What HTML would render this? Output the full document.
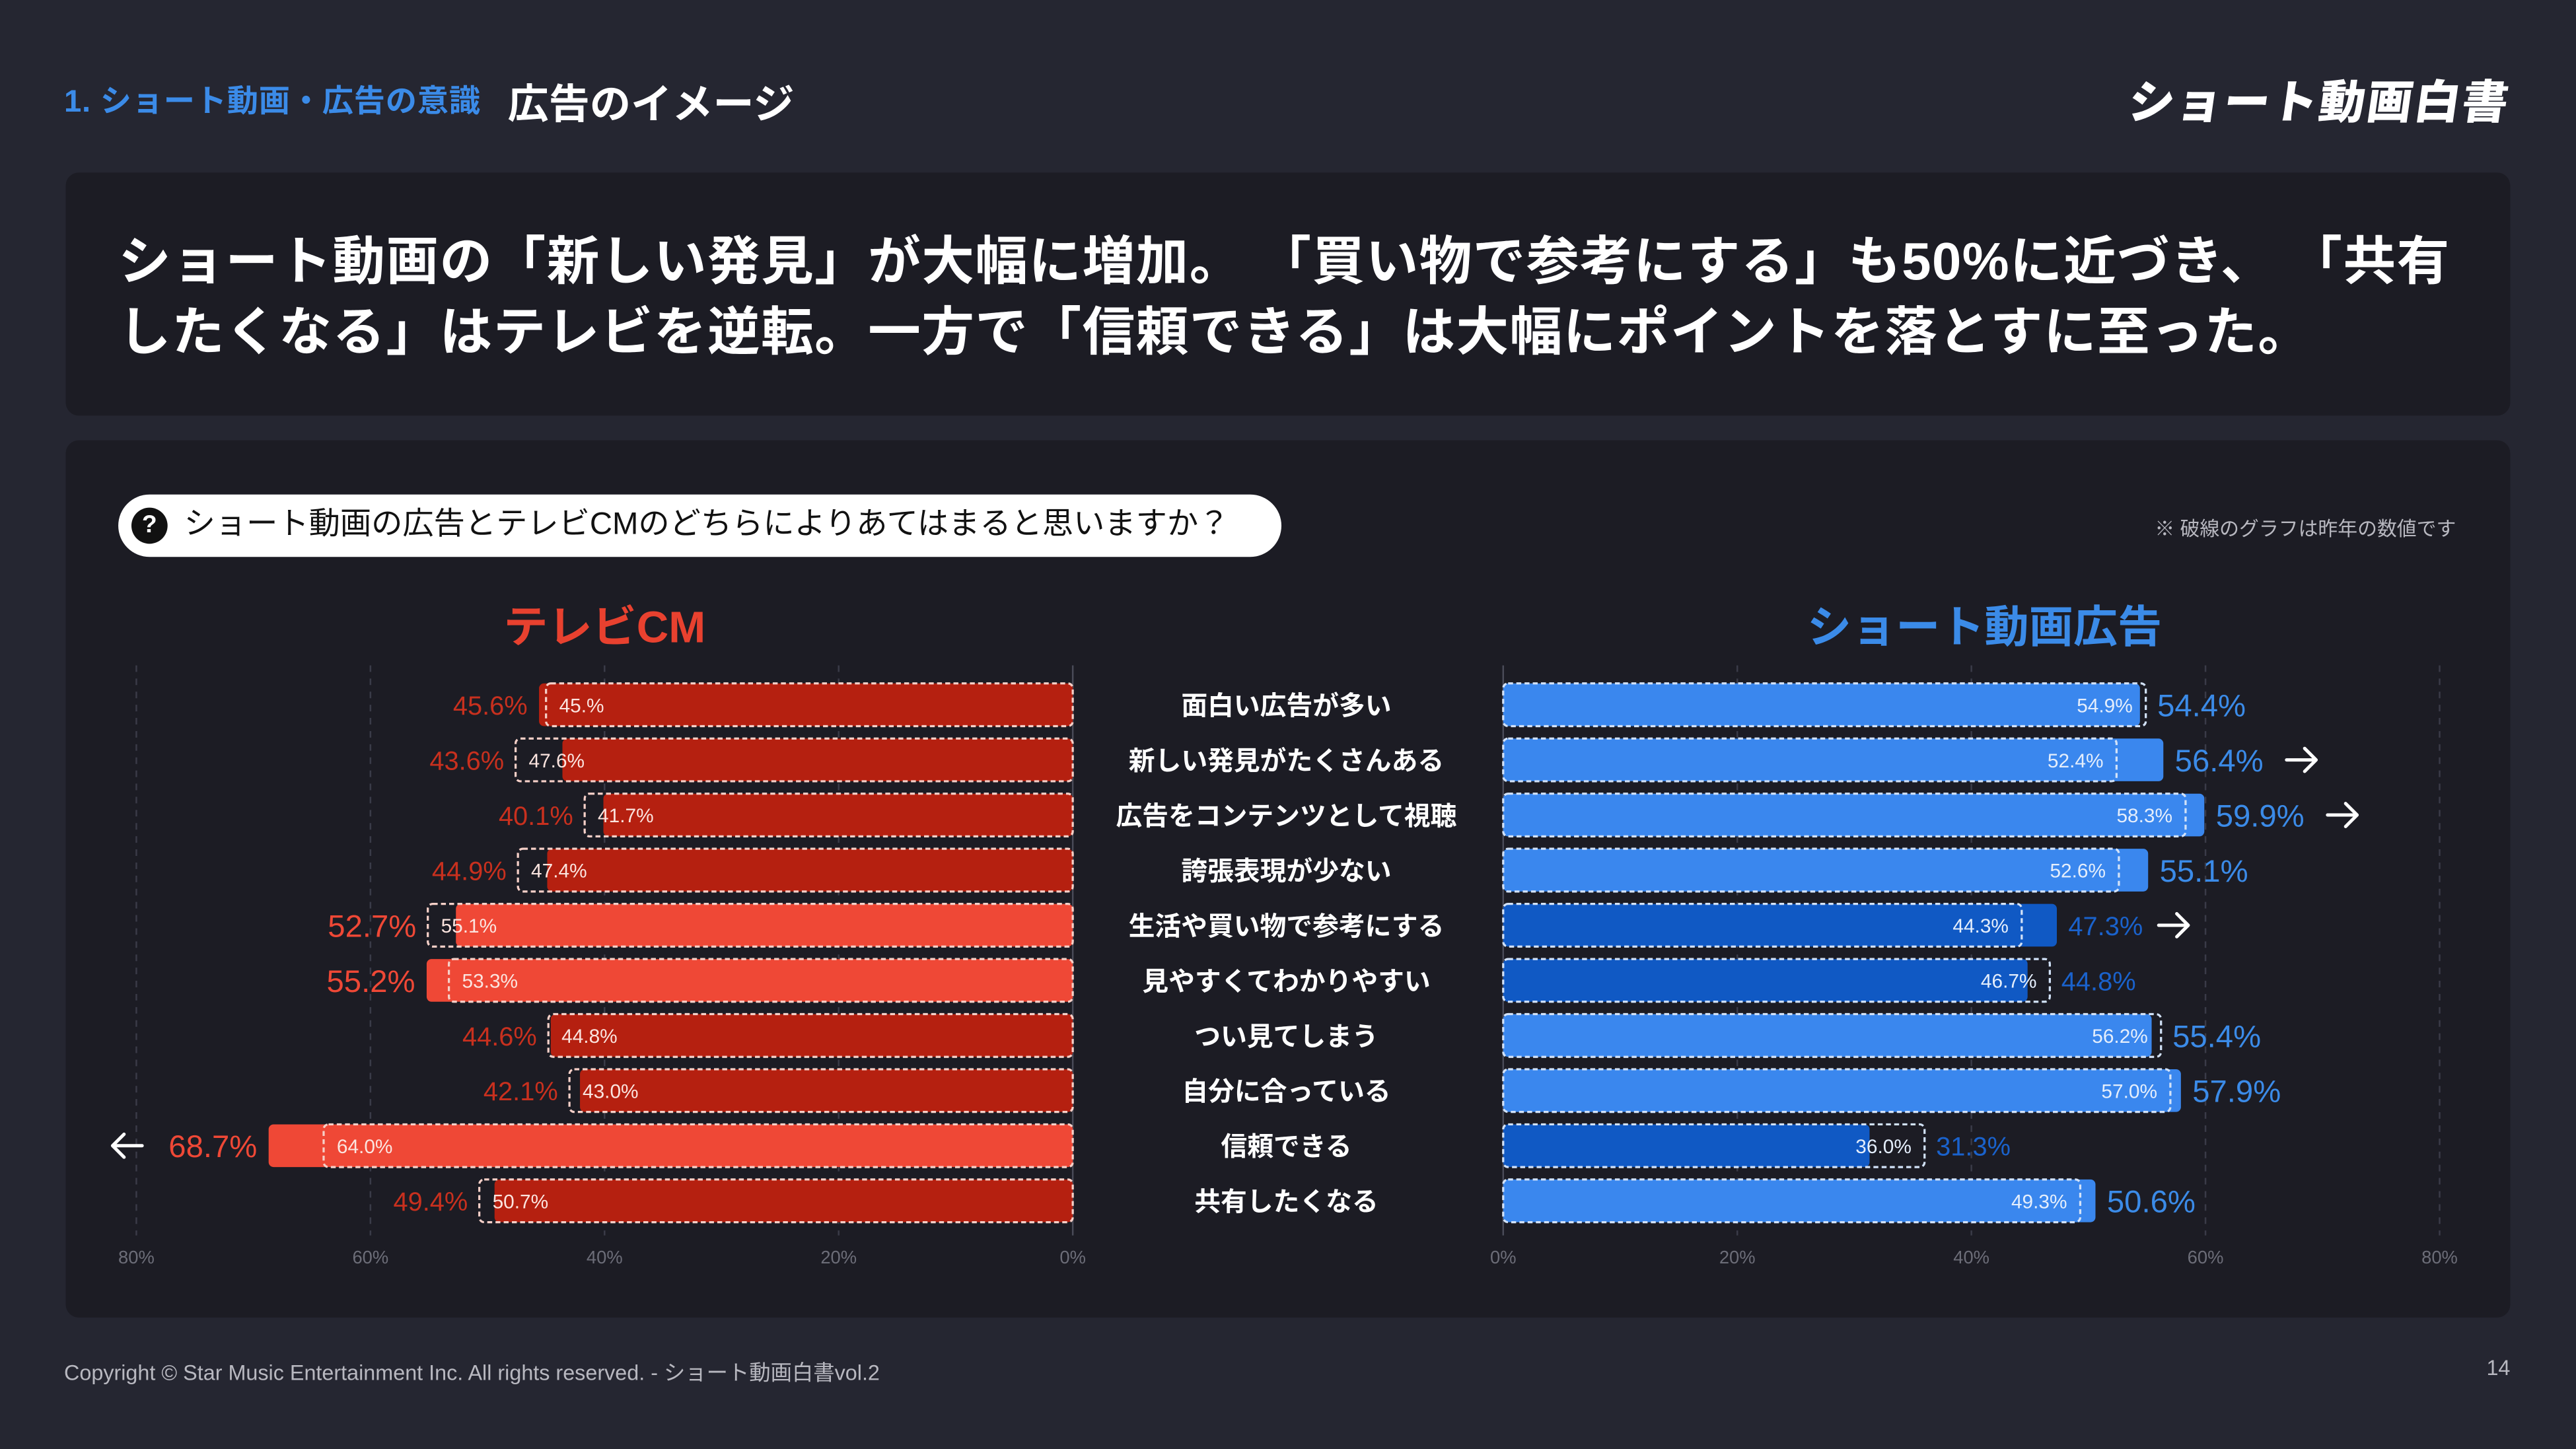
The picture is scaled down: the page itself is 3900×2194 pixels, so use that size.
<!DOCTYPE html>
<html><head><meta charset="utf-8"><style>
html,body{margin:0;padding:0;background:#252631;width:3900px;height:2194px;overflow:hidden}
#wrap{position:absolute;left:0;top:0;width:1568px;height:882px;transform:scale(2.4872,2.4875);transform-origin:0 0;font-family:"Liberation Sans","Noto Sans CJK JP",sans-serif;color:#fff}
.abs{position:absolute}
</style></head><body>
<div id="wrap">
 <div class="abs" style="left:39px;top:47px;font-size:19px;font-weight:bold;color:#3b8be8;letter-spacing:0.3px">1. ショート動画・広告の意識</div>
 <div class="abs" style="left:309px;top:44px;font-size:25px;font-weight:bold">広告のイメージ</div>
 <div class="abs" style="left:1258px;top:41px;width:270px;text-align:right;font-size:28px;font-weight:900;letter-spacing:1px;transform:skewX(-8deg)">ショート動画白書</div>
 <div class="abs" style="left:40px;top:105px;width:1488px;height:148px;background:#1c1c24;border-radius:8px"></div>
 <div class="abs" style="left:72px;top:138px;width:1460px;font-size:32px;font-weight:bold;line-height:43px;letter-spacing:0.6px;white-space:nowrap">ショート動画の「新しい発見」が大幅に増加。 「買い物で参考にする」も50%に近づき、 「共有<br>したくなる」はテレビを逆転。一方で「信頼できる」は大幅にポイントを落とすに至った。</div>
 <div class="abs" style="left:40px;top:268px;width:1488px;height:534px;background:#1c1c24;border-radius:8px"></div>
 <div class="abs" style="left:72px;top:301px;width:708px;height:38px;background:#fff;border-radius:19px;color:#111;font-size:19px;line-height:38px">
  <span style="position:absolute;left:8px;top:8px;width:22px;height:22px;border-radius:11px;background:#111;color:#fff;font-size:15px;font-weight:bold;line-height:22px;text-align:center">?</span>
  <span style="position:absolute;left:40px">ショート動画の広告とテレビCMのどちらによりあてはまると思いますか？</span></div>
 <div class="abs" style="left:1200px;width:295px;text-align:right;top:313px;font-size:12px;color:#b8b8c0">※ 破線のグラフは昨年の数値です</div>
 <div class="abs" style="left:268px;width:200px;text-align:center;top:360px;font-size:27px;font-weight:bold;color:#e8412f">テレビCM</div>
 <div class="abs" style="left:1058px;width:300px;text-align:center;top:360px;font-size:27px;font-weight:bold;color:#3b8be8">ショート動画広告</div>
 <svg class="abs" id="chart" style="left:0;top:0" width="1568" height="882"></svg>
 <div class="abs" style="left:39px;top:825px;font-size:13px;color:#b8b8c0">Copyright © Star Music Entertainment Inc. All rights reserved. - ショート動画白書vol.2</div>
 <div class="abs" style="left:1500px;width:28px;text-align:right;top:825px;font-size:13px;color:#b8b8c0">14</div>
</div>
<script>
const categories=["面白い広告が多い","新しい発見がたくさんある","広告をコンテンツとして視聴","誇張表現が少ない","生活や買い物で参考にする","見やすくてわかりやすい","つい見てしまう","自分に合っている","信頼できる","共有したくなる"];
const tvNow=[45.6,43.6,40.1,44.9,52.7,55.2,44.6,42.1,68.7,49.4];
const tvPrev=[45.0,47.6,41.7,47.4,55.1,53.3,44.8,43.0,64.0,50.7];
const tvPrevLabels=["45.%","47.6%","41.7%","47.4%","55.1%","53.3%","44.8%","43.0%","64.0%","50.7%"];
const snsNow=[54.4,56.4,59.9,55.1,47.3,44.8,55.4,57.9,31.3,50.6];
const snsPrev=[54.9,52.4,58.3,52.6,44.3,46.7,56.2,57.0,36.0,49.3];
const highlight=[0,0,0,0,1,1,0,0,1,0];
const snsArrow=[0,1,1,0,1,0,0,0,0,0];
const tvArrow=[0,0,0,0,0,0,0,0,1,0];
const ticks=[0,20,40,60,80];
const svg=document.getElementById('chart');const NS="http://www.w3.org/2000/svg";
function mk(t,a,txt){const e=document.createElementNS(NS,t);for(const k in a)e.setAttribute(k,a[k]);if(txt!=null)e.textContent=txt;svg.appendChild(e);return e;}
const K=570/80;
const xL=v=>653-v*K, xR=v=>915+v*K;
const yC=i=>429+i*33.55;
const F='"Liberation Sans","Noto Sans CJK JP",sans-serif';
function arrow(x,y,dir){
 const p=dir>0?`M${x} ${y} H${x+18} M${x+11} ${y-7} L${x+18} ${y} L${x+11} ${y+7}`:`M${x+18} ${y} H${x} M${x+7} ${y-7} L${x} ${y} L${x+7} ${y+7}`;
 return mk('path',{d:p,stroke:'#fff','stroke-width':2,fill:'none','stroke-linecap':'round','stroke-linejoin':'round'});
}
ticks.forEach(t=>{
 let g=mk('line',{x1:xL(t),x2:xL(t),y1:405,y2:752,stroke:t?'#3a3b48':'#4a4b58','stroke-dasharray':t?'4 4':'',"stroke-width":1});
 
 g=mk('line',{x1:xR(t),x2:xR(t),y1:405,y2:752,stroke:t?'#3a3b48':'#4a4b58','stroke-dasharray':t?'4 4':'',"stroke-width":1});
 
 let a=mk('text',{x:xL(t),y:769,'text-anchor':'middle','font-size':11,fill:'#6c6d78','font-family':F},t+'%');
 
 a=mk('text',{x:xR(t),y:769,'text-anchor':'middle','font-size':11,fill:'#6c6d78','font-family':F},t+'%');
 
});
categories.forEach((c,i)=>{
 const y=yC(i),h=26,top=y-13,hl=highlight[i];
 let r=mk('rect',{x:xL(tvNow[i]),y:top,width:tvNow[i]*K,height:h,rx:3,fill:hl?'#ef4836':'#b52010'});
 
 r=mk('rect',{x:xL(tvPrev[i]),y:top,width:tvPrev[i]*K,height:h,rx:3,fill:'none',stroke:'#f6d0c8','stroke-width':1.3,'stroke-dasharray':'3 2'});
 
 let t=mk('text',{x:xL(tvPrev[i])+8,y:y+4.5,'font-size':12,fill:'#fbe4df','font-family':F},tvPrevLabels[i]);
 
 const lx=Math.min(xL(tvNow[i]),xL(tvPrev[i]))-7;
 t=mk('text',{x:lx,y:y+(hl?7:6),'text-anchor':'end','font-size':hl?19:16,fill:hl?'#ef4836':'#c8301e','font-family':F},tvNow[i].toFixed(1)+'%');
 
 if(tvArrow[i]){t=arrow(lx-88,y,-1);}
 r=mk('rect',{x:915,y:top,width:snsNow[i]*K,height:h,rx:3,fill:hl?'#1059c4':'#3a87ee'});
 
 r=mk('rect',{x:915,y:top,width:snsPrev[i]*K,height:h,rx:3,fill:'none',stroke:'#d2e2f8','stroke-width':1.3,'stroke-dasharray':'3 2'});
 
 t=mk('text',{x:xR(snsPrev[i])-8,y:y+4.5,'text-anchor':'end','font-size':12,fill:'#e4eefc','font-family':F},snsPrev[i].toFixed(1)+'%');
 
 const rx=Math.max(xR(snsNow[i]),xR(snsPrev[i]))+7;
 t=mk('text',{x:rx,y:y+(hl?6:7),'font-size':hl?16:19,fill:hl?'#1a62cc':'#3b8be8','font-family':F},snsNow[i].toFixed(1)+'%');
 
 if(snsArrow[i]){t=arrow(rx+(hl?55:68),y,1);}
 t=mk('text',{x:783,y:y+6,'text-anchor':'middle','font-size':16,'font-weight':'bold',fill:'#fff','font-family':F},c);
 
});
</script>
</body></html>
